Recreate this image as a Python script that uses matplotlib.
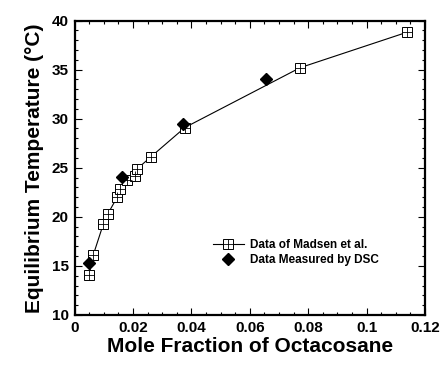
import matplotlib
matplotlib.use("Agg")
import matplotlib.pyplot as plt
from matplotlib.ticker import MultipleLocator
from matplotlib.legend_handler import HandlerTuple

# Data of Madsen et al. (mole fraction, temperature in C)
madsen_x = [0.0050, 0.0064, 0.0099, 0.0114, 0.0147, 0.0156, 0.0179,
            0.0207, 0.0213, 0.0261, 0.0378, 0.0773, 0.1138]
madsen_t = [14.1, 16.1, 19.3, 20.3, 22.05, 22.8, 23.76,
            24.2, 24.85, 26.1, 29.1, 35.2, 38.8]

# Data measured by DSC
dsc_x = [0.0050, 0.0164, 0.0370, 0.0655]
dsc_t = [15.33, 24.1, 29.46, 34.07]

plt.rcParams['font.family'] = ['Liberation Sans', 'DejaVu Sans']
plt.rcParams['font.weight'] = 'bold'

fig = plt.figure(figsize=(4.42, 3.65), dpi=100)
ax = fig.add_axes([0.1686, 0.137, 0.7929, 0.8068])

# Madsen line with open squares + crosses
sq, = ax.plot(madsen_x, madsen_t, color='black', linewidth=0.8, marker='s',
              markersize=7.5, markerfacecolor='white', markeredgecolor='black',
              markeredgewidth=0.7)
cross, = ax.plot(madsen_x, madsen_t, linestyle='none', marker='+', markersize=7.5,
                 markeredgecolor='black', markeredgewidth=0.6)

# DSC diamonds
dia, = ax.plot(dsc_x, dsc_t, linestyle='none', marker='D', markersize=6,
               color='black')

ax.set_xlim(0, 0.12)
ax.set_ylim(10, 40)
ax.xaxis.set_minor_locator(MultipleLocator(0.005))
ax.yaxis.set_major_locator(MultipleLocator(5))
ax.yaxis.set_minor_locator(MultipleLocator(1))
ax.set_xticks([0, 0.02, 0.04, 0.06, 0.08, 0.1, 0.12])
ax.set_xticklabels(['0', '0.02', '0.04', '0.06', '0.08', '0.1', '0.12'])

ax.tick_params(which='both', direction='in', top=True, right=True,
               labelsize=11, width=0.8)
ax.tick_params(which='major', length=5, pad=4)
ax.tick_params(which='minor', length=2.5)
for lbl in ax.get_xticklabels() + ax.get_yticklabels():
    lbl.set_fontweight('bold')
for side in ax.spines.values():
    side.set_linewidth(1.6)

ax.set_xlabel('Mole Fraction of Octacosane', fontsize=15, fontweight='bold', labelpad=2)
ax.set_ylabel('Equilibrium Temperature (°C)', fontsize=15, fontweight='bold', labelpad=6)

ax.legend([(sq, cross), dia], ['Data of Madsen et al.', 'Data Measured by DSC'],
          handler_map={tuple: HandlerTuple(ndivide=1, pad=0)},
          loc='center left', bbox_to_anchor=(0.365, 0.212), frameon=False,
          handlelength=2.6, handletextpad=0.5, labelspacing=0.27,
          prop={'weight': 'bold', 'size': 8.5})

fig.savefig('out.png', dpi=100)
